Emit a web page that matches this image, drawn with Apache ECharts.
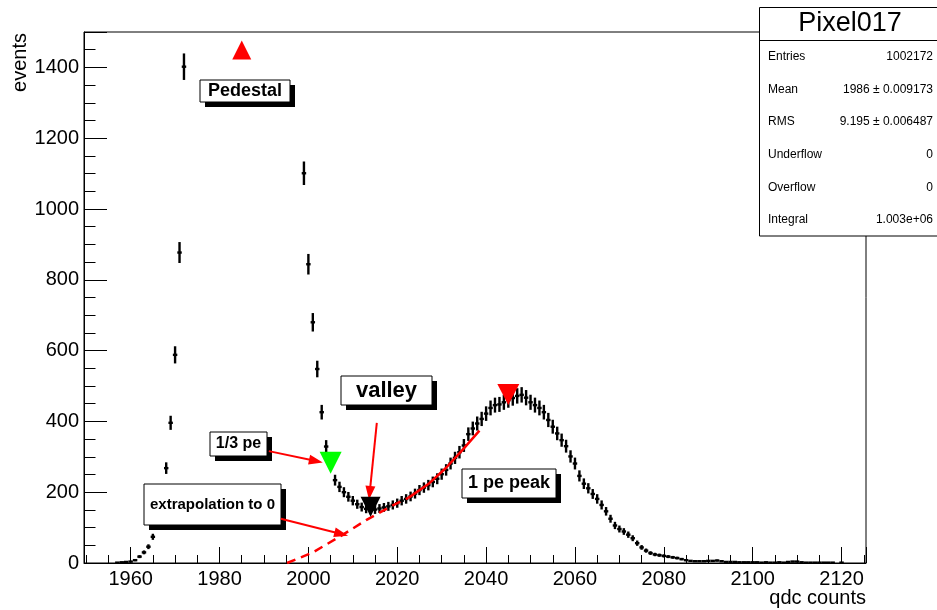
<!DOCTYPE html>
<html>
<head>
<meta charset="utf-8">
<title>Pixel017</title>
<script src="https://cdn.jsdelivr.net/npm/echarts@6/dist/echarts.min.js"></script>
<style>
html, body { margin: 0; padding: 0; background: #fff; }
#chart { width: 937px; height: 610px; }
</style>
</head>
<body>
<div id="chart"></div>
<script>
// histogram bins (qdc value) and their contents
let qdcBins = [
    1957, 1958, 1959, 1960, 1961, 1962, 1963, 1964, 1965, 1968, 1969, 1970, 1971, 1972,
    1999, 2000, 2001, 2002, 2003, 2004, 2005,
    2006, 2007, 2008, 2009, 2010, 2011, 2012, 2013, 2014, 2015,
    2016, 2017, 2018, 2019, 2020, 2021, 2022, 2023, 2024, 2025,
    2026, 2027, 2028, 2029, 2030, 2031, 2032, 2033, 2034, 2035,
    2036, 2037, 2038, 2039, 2040, 2041, 2042, 2043, 2044, 2045,
    2046, 2047, 2048, 2049, 2050, 2051, 2052, 2053, 2054, 2055,
    2056, 2057, 2058, 2059, 2060, 2061, 2062, 2063, 2064, 2065,
    2066, 2067, 2068, 2069, 2070, 2071, 2072, 2073, 2074, 2075,
    2076, 2077, 2078, 2079, 2080, 2081, 2082, 2083, 2084, 2085,
    2086, 2087, 2088, 2089, 2090, 2091, 2092, 2093, 2094, 2095,
    2096, 2097, 2098, 2099, 2100, 2101, 2102, 2103, 2104, 2105,
    2106, 2107, 2108, 2109, 2110, 2111, 2112, 2113, 2114, 2115,
    2116, 2117, 2118, 2120
];
let counts = [
    1, 2, 3, 4, 8, 18, 30, 46, 74, 268, 396, 588, 877, 1402,
    1101, 844, 680, 548, 426, 329, 281,
    234, 215, 200, 187, 176, 166, 158, 153, 150, 151,
    154, 157, 160, 164, 169, 176, 181, 188, 196, 206,
    213, 220, 229, 238, 251, 263, 281, 297, 313, 332,
    364, 380, 394, 407, 422, 438, 446, 448, 454, 460,
    466, 472, 475, 467, 454, 446, 438, 426, 404, 385,
    366, 347, 330, 301, 281, 246, 224, 211, 195, 181,
    164, 146, 125, 106, 96, 89, 80, 70, 56, 44,
    35, 28, 24, 22, 20, 18, 16, 14, 11, 8,
    6, 5, 5, 5, 6, 6, 7, 5, 3, 3,
    3, 2, 2, 2, 2, 2, 1, 2, 1, 1,
    2, 1, 3, 4, 4, 2, 1, 1, 1, 1,
    1, 1, 1, 1
];

// fit to the 1 pe peak: dashed extrapolation and solid fitted range
let fitDashX = [1995.2, 2001, 2007, 2013, 2019, 2022.5];
let fitDashY = [0, 30, 74, 121, 163, 184];
let fitSolidX = [2022.5, 2027, 2031, 2035, 2038.5];
let fitSolidY = [184, 223, 269, 324, 374];

// markers: pedestal, 1/3 pe, valley, 1 pe peak
let pedMark = [1985, 1449];
let thirdMark = [2005, 283];
let valleyMark = [2014, 159];
let peakMark = [2045, 476];

// red arrows (from, to) in data units
let arrowLines = [
    [[1991.1, 316], [2001.7, 288]],
    [[1993.8, 125], [2007.4, 82]],
    [[2015.4, 396], [2013.8, 198]]
];

let statNames = ['Entries', 'Mean', 'RMS', 'Underflow', 'Overflow', 'Integral'];
let statValues = ['1002172', '1986 \u00b1 0.009173', '9.195 \u00b1 0.006487', '0', '0', '1.003e+06'];

let fontFam = '"Liberation Sans", Arial, Helvetica, sans-serif';

function zip(xs, ys) {
    return xs.map(function (x, i) { return [x, ys[i]]; });
}

function renderBin(params, api) {
    let x = api.value(0);
    let y = api.value(1);
    let e = Math.sqrt(y);
    let top = api.coord([x, y + e]);
    let bot = api.coord([x, Math.max(y - e, 0)]);
    let left = api.coord([x - 0.5, y]);
    let right = api.coord([x + 0.5, y]);
    return {
        type: 'group',
        children: [
            { type: 'line', shape: { x1: top[0], y1: top[1], x2: bot[0], y2: bot[1] },
              style: { stroke: '#000', lineWidth: 2.4 } },
            { type: 'line', shape: { x1: left[0], y1: left[1], x2: right[0], y2: right[1] },
              style: { stroke: '#000', lineWidth: 2.4 } }
        ]
    };
}

function pave(x, y, w, h, text, size) {
    return {
        type: 'group', z: 100,
        children: [
            { type: 'rect', shape: { x: x + 5, y: y + 5, width: w, height: h }, style: { fill: '#000' } },
            { type: 'rect', shape: { x: x, y: y, width: w, height: h }, style: { fill: '#fff', stroke: '#000', lineWidth: 1 } },
            { type: 'text', x: x + w / 2, y: y + h / 2,
              style: { text: text, font: 'bold ' + size + 'px ' + fontFam, fill: '#000', align: 'center', verticalAlign: 'middle' } }
        ]
    };
}

let statsChildren = [
    { type: 'rect', shape: { x: 759.5, y: 7.5, width: 178, height: 228.5 }, style: { fill: '#fff', stroke: '#000', lineWidth: 1 } },
    { type: 'line', shape: { x1: 759.5, y1: 40.5, x2: 937, y2: 40.5 }, style: { stroke: '#000', lineWidth: 1 } },
    { type: 'text', x: 850, y: 24, style: { text: 'Pixel017', font: '27px ' + fontFam, fill: '#000', align: 'center', verticalAlign: 'middle' } }
];
let statRowY = [57, 90, 122, 155, 188, 220];
statNames.forEach(function (n, i) {
    statsChildren.push({ type: 'text', x: 768, y: statRowY[i],
        style: { text: n, font: '12px ' + fontFam, fill: '#000', align: 'left', verticalAlign: 'middle' } });
    statsChildren.push({ type: 'text', x: 933, y: statRowY[i],
        style: { text: statValues[i], font: '12px ' + fontFam, fill: '#000', align: 'right', verticalAlign: 'middle' } });
});

let chart = echarts.init(document.getElementById('chart'), null, { renderer: 'canvas' });

let option = {
    animation: false,
    backgroundColor: '#fff',
    textStyle: { fontFamily: fontFam },
    grid: {
        left: 84, right: 71, top: 32, bottom: 47,
        show: true, borderColor: '#000', borderWidth: 1,
        backgroundColor: 'transparent',
        containLabel: false,
        outerBoundsMode: 'none'
    },
    xAxis: {
        type: 'value', min: 1949.5, max: 2125.5, splitNumber: 9,
        axisLine: { show: true, onZero: false, lineStyle: { color: '#000', width: 1 } },
        axisTick: { show: true, inside: true, length: 16, lineStyle: { color: '#000', width: 1 } },
        minorTick: { show: true, splitNumber: 4, length: 8, lineStyle: { color: '#000', width: 1 } },
        splitLine: { show: false },
        axisLabel: {
            color: '#000', fontSize: 20, margin: 6, fontFamily: fontFam,
            formatter: function (v) { return v % 20 === 0 ? String(v) : ''; }
        }
    },
    yAxis: {
        type: 'value', min: 0, max: 1500, interval: 200,
        axisLine: { show: true, lineStyle: { color: '#000', width: 1 } },
        axisTick: { show: true, inside: true, length: 23, lineStyle: { color: '#000', width: 1 } },
        minorTick: { show: true, splitNumber: 4, length: 11.5, lineStyle: { color: '#000', width: 1 } },
        splitLine: { show: false },
        axisLabel: {
            color: '#000', fontSize: 20, margin: 5, fontFamily: fontFam,
            formatter: function (v) { return v % 200 === 0 ? String(v) : ''; }
        }
    },
    series: [
        {
            type: 'custom', name: 'Pixel017', renderItem: renderBin,
            data: zip(qdcBins, counts), encode: { x: 0, y: 1 }, clip: true, z: 3
        },
        {
            type: 'line', name: 'fit extrapolation', data: zip(fitDashX, fitDashY),
            symbol: 'none', lineStyle: { color: '#ff0000', width: 2.5, type: [9, 6] }, z: 4
        },
        {
            type: 'line', name: 'fit', data: zip(fitSolidX, fitSolidY),
            symbol: 'none', lineStyle: { color: '#ff0000', width: 2.5 }, z: 4,
            markLine: {
                silent: true, symbol: ['none', 'triangle'], symbolSize: [10, 14],
                label: { show: false },
                lineStyle: { color: '#ff0000', width: 2, type: 'solid' },
                emphasis: { disabled: true },
                data: arrowLines.map(function (a) { return [{ coord: a[0] }, { coord: a[1] }]; })
            }
        },
        {
            type: 'scatter', name: 'pedestal', data: [pedMark], symbol: 'triangle',
            symbolSize: [19, 19], itemStyle: { color: '#ff0000', opacity: 1 }, z: 5
        },
        {
            type: 'scatter', name: '1/3 pe', data: [thirdMark], symbol: 'triangle', symbolRotate: 180,
            symbolSize: [22, 22], itemStyle: { color: '#00ff00', opacity: 1 }, z: 5
        },
        {
            type: 'scatter', name: 'valley', data: [valleyMark], symbol: 'triangle', symbolRotate: 180,
            symbolSize: [20, 20], itemStyle: { color: '#000', opacity: 1 }, z: 5
        },
        {
            type: 'scatter', name: '1 pe peak', data: [peakMark], symbol: 'triangle', symbolRotate: 180,
            symbolSize: [22, 21], itemStyle: { color: '#ff0000', opacity: 1 }, z: 5
        }
    ],
    graphic: [
        { type: 'text', x: 20, y: 33, rotation: Math.PI / 2, z: 100,
          style: { text: 'events', font: '20px ' + fontFam, fill: '#000', align: 'right', verticalAlign: 'middle' } },
        { type: 'text', x: 866, y: 598, z: 100,
          style: { text: 'qdc counts', font: '20px ' + fontFam, fill: '#000', align: 'right', verticalAlign: 'middle' } },
        pave(200, 80, 90, 22, 'Pedestal', 18),
        pave(341, 376, 91, 29, 'valley', 22),
        pave(210, 432, 57, 24, '1/3 pe', 16),
        pave(144, 484, 137, 41, 'extrapolation to 0', 15),
        pave(462, 469, 94, 29, '1 pe peak', 18),
        { type: 'group', z: 100, children: statsChildren }
    ]
};

chart.setOption(option);
</script>
</body>
</html>
